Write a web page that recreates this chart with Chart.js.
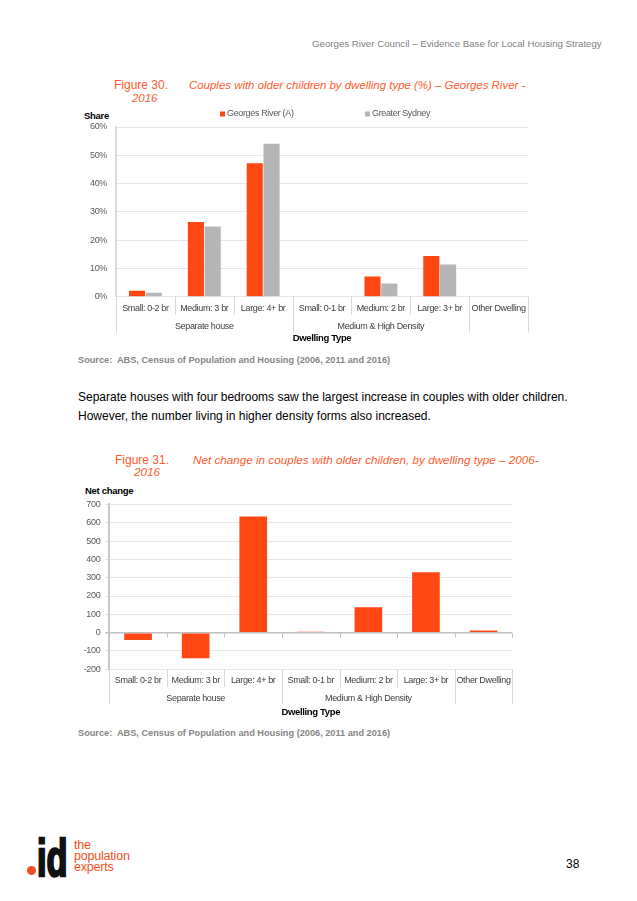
<!DOCTYPE html>
<html>
<head>
<meta charset="utf-8">
<script src="https://cdn.jsdelivr.net/npm/chart.js@4.4.1/dist/chart.umd.min.js"></script>
<style>
  body { margin: 0; background: #fff; }
  #page { position: relative; width: 637px; height: 901px; overflow: hidden; font-family: 'Liberation Sans', Arial, sans-serif; }
  .t { position: absolute; white-space: nowrap; }
  .fig { color: #ff5a2d; font-size: 12px; line-height: 14px; }
  .fig i { font-style: italic; }
  .src { color: #868686; font-size: 9.2px; font-weight: bold; line-height: 12px; }
  .axt { font-weight: bold; font-size: 9.5px; letter-spacing: -0.3px; line-height: 12px; color: #000; }
  .body { font-size: 12px; line-height: 14px; color: #000; }
  canvas { position: absolute; }
</style>
</head>
<body>
<div id="page">
  <div class="t" style="left:312px;top:38px;font-size:9.7px;line-height:12px;color:#7f7f7f;">Georges River Council – Evidence Base for Local Housing Strategy</div>

  <div class="t fig" style="left:114px;top:78px;">Figure 30.</div>
  <div class="t fig" style="left:189px;top:78px;font-size:11.45px;"><i>Couples with older children by dwelling type (%) – Georges River -</i></div>
  <div class="t fig" style="left:132px;top:91px;font-size:11.45px;"><i>2016</i></div>
  <div class="t axt" style="left:84px;top:110px;">Share</div>

  <div style="position:absolute;left:60px;top:105px;width:480px;height:245px;"><canvas id="shareChart"></canvas></div>

  <div class="t src" style="left:78px;top:354px;">Source:&nbsp; ABS, Census of Population and Housing (2006, 2011 and 2016)</div>

  <div class="t body" style="left:78px;top:390px;">Separate houses with four bedrooms saw the largest increase in couples with older children.</div>
  <div class="t body" style="left:78px;top:409px;">However, the number living in higher density forms also increased.</div>

  <div class="t fig" style="left:115px;top:453px;">Figure 31.</div>
  <div class="t fig" style="left:193px;top:453px;font-size:11.7px;"><i>Net change in couples with older children, by dwelling type – 2006-</i></div>
  <div class="t fig" style="left:134px;top:465px;font-size:11.7px;"><i>2016</i></div>
  <div class="t axt" style="left:85px;top:485px;">Net change</div>

  <div style="position:absolute;left:60px;top:482px;width:480px;height:240px;"><canvas id="netChart"></canvas></div>

  <div class="t src" style="left:78px;top:727px;">Source:&nbsp; ABS, Census of Population and Housing (2006, 2011 and 2016)</div>

  <div style="position:absolute;left:27px;top:866px;width:9px;height:9px;border-radius:50%;background:#f04e23;"></div>
  <div class="t" style="left:37px;top:832px;font-size:52px;line-height:52px;font-weight:bold;color:#111;-webkit-text-stroke:2.5px #111;transform:scaleX(0.66);transform-origin:left top;">id</div>
  <div class="t" style="left:74px;top:840px;font-size:12.5px;line-height:11px;color:#f04e23;letter-spacing:-0.2px;">the<br>population<br>experts</div>
  <div class="t" style="left:566px;top:857px;font-size:12px;line-height:14px;color:#000;">38</div>
</div>

<script>
// categories and values
const categories = ['Small: 0-2 br', 'Medium: 3 br', 'Large: 4+ br', 'Small: 0-1 br', 'Medium: 2 br', 'Large: 3+ br', 'Other Dwelling'];
const groupLabels = ['Separate house', 'Medium & High Density', ''];
const groupSpans = [3, 3, 1];
const georgesRiverShare = [2.1, 26.4, 47.2, 0, 7.1, 14.4, 0];
const greaterSydneyShare = [1.4, 24.8, 54.1, 0, 4.7, 11.4, 0];
const netChange = [-40, -140, 634, 5, 139, 330, 12];
const seriesNames = ['Georges River (A)', 'Greater Sydney'];

const orange = '#ff4713';
const grey = '#b5b5b5';
const chartFont = "'Liberation Sans', Arial, sans-serif";

// squeeze the chart text a little, the original uses a narrow face
const narrowText = {
  id: 'narrowText',
  beforeDraw(chart) {
    chart.ctx.letterSpacing = '-0.35px';
  }
};

// second row of the x axis: separators, group names, axis title
const multiLevelAxis = {
  id: 'multiLevelAxis',
  afterDraw(chart, args, opts) {
    const ctx = chart.ctx;
    const x = chart.scales.x;
    const y = chart.scales.y;
    const base = chart.chartArea.bottom;
    const step = x.getPixelForValue(1) - x.getPixelForValue(0);
    const edge = i => x.getPixelForValue(i) - step / 2;
    const groupEdges = [0];
    groupSpans.forEach(s => groupEdges.push(groupEdges[groupEdges.length - 1] + s));

    ctx.save();
    ctx.letterSpacing = '-0.35px';
    ctx.strokeStyle = '#d9d9d9';
    ctx.lineWidth = 1;
    for (let i = 0; i <= categories.length; i++) {
      const px = Math.round(edge(i)) + 0.5;
      const long = groupEdges.includes(i);
      ctx.beginPath();
      ctx.moveTo(px, base);
      ctx.lineTo(px, base + (long ? opts.row2 : opts.row1));
      ctx.stroke();
    }
    if (opts.zeroTicks) {
      const zy = Math.round(y.getPixelForValue(0)) + 0.5;
      ctx.strokeStyle = '#bfbfbf';
      for (let i = 0; i <= categories.length; i++) {
        const px = Math.round(edge(i)) + 0.5;
        ctx.beginPath();
        ctx.moveTo(px, zy);
        ctx.lineTo(px, zy + 4);
        ctx.stroke();
      }
    }
    ctx.fillStyle = '#404040';
    ctx.font = '9px ' + chartFont;
    ctx.textAlign = 'center';
    ctx.textBaseline = 'middle';
    groupLabels.forEach((g, k) => {
      const cx = (edge(groupEdges[k]) + edge(groupEdges[k + 1])) / 2;
      ctx.fillText(g, cx, base + opts.groupY);
    });
    ctx.fillStyle = '#000';
    ctx.font = 'bold 9.5px ' + chartFont;
    ctx.fillText('Dwelling Type', (chart.chartArea.left + chart.chartArea.right) / 2, base + opts.titleY);

    if (opts.legendAt) {
      ctx.font = '9px ' + chartFont;
      ctx.textAlign = 'left';
      chart.data.datasets.forEach((ds, i) => {
        const lx = opts.legendAt[i];
        ctx.fillStyle = ds.backgroundColor;
        ctx.fillRect(lx, opts.legendY - 2.5, 5, 5);
        ctx.fillStyle = '#595959';
        ctx.fillText(ds.label, lx + 7, opts.legendY);
      });
    }
    ctx.restore();
  }
};

Chart.register(narrowText, multiLevelAxis);
Chart.defaults.font.family = chartFont;
Chart.defaults.font.size = 9;
Chart.defaults.color = '#595959';

new Chart(document.getElementById('shareChart'), {
  type: 'bar',
  data: {
    labels: categories,
    datasets: [
      { label: seriesNames[0], data: georgesRiverShare, backgroundColor: orange },
      { label: seriesNames[1], data: greaterSydneyShare, backgroundColor: grey }
    ]
  },
  options: {
    responsive: true,
    maintainAspectRatio: false,
    animation: false,
    layout: { padding: { left: 0, right: 12, top: 22, bottom: 0 } },
    datasets: { bar: { categoryPercentage: 0.57, barPercentage: 0.96 } },
    plugins: {
      legend: { display: false },
      tooltip: { enabled: false },
      multiLevelAxis: { row1: 18, row2: 36, groupY: 30, titleY: 42, legendAt: [160, 305], legendY: 9 }
    },
    scales: {
      x: {
        grid: { display: false, drawTicks: false },
        border: { display: false },
        ticks: { color: '#404040', padding: 6, maxRotation: 0, autoSkip: false },
        afterFit: s => { s.height = 53.3; }
      },
      y: {
        min: 0, max: 60,
        ticks: { stepSize: 10, padding: 9, callback: v => v + '%' },
        grid: { color: '#e6e6e6', drawTicks: false },
        border: { color: '#d9d9d9', width: 2 },
        afterFit: s => { s.width = 56; }
      }
    }
  }
});

new Chart(document.getElementById('netChart'), {
  type: 'bar',
  data: {
    labels: categories,
    datasets: [
      { label: 'Net change', data: netChange, backgroundColor: orange }
    ]
  },
  options: {
    responsive: true,
    maintainAspectRatio: false,
    animation: false,
    layout: { padding: { left: 0, right: 27.7, top: 22.4, bottom: 0 } },
    datasets: { bar: { categoryPercentage: 1, barPercentage: 0.48 } },
    plugins: {
      legend: { display: false },
      tooltip: { enabled: false },
      multiLevelAxis: { row1: 18, row2: 35, groupY: 29, titleY: 43.5, zeroTicks: true }
    },
    scales: {
      x: {
        grid: { display: false, drawTicks: false },
        border: { display: false },
        ticks: { color: '#404040', padding: 6, maxRotation: 0, autoSkip: false },
        afterFit: s => { s.height = 52.7; }
      },
      y: {
        min: -200, max: 700,
        ticks: { stepSize: 100, padding: 5 },
        grid: {
          color: c => c.tick && c.tick.value === 0 ? '#bfbfbf' : '#e6e6e6',
          lineWidth: c => c.tick && c.tick.value === 0 ? 1.5 : 1,
          tickLength: 4
        },
        border: { color: '#c8c8c8', width: 2 },
        afterFit: s => { s.width = 49.3; }
      }
    }
  }
});
</script>
</body>
</html>
